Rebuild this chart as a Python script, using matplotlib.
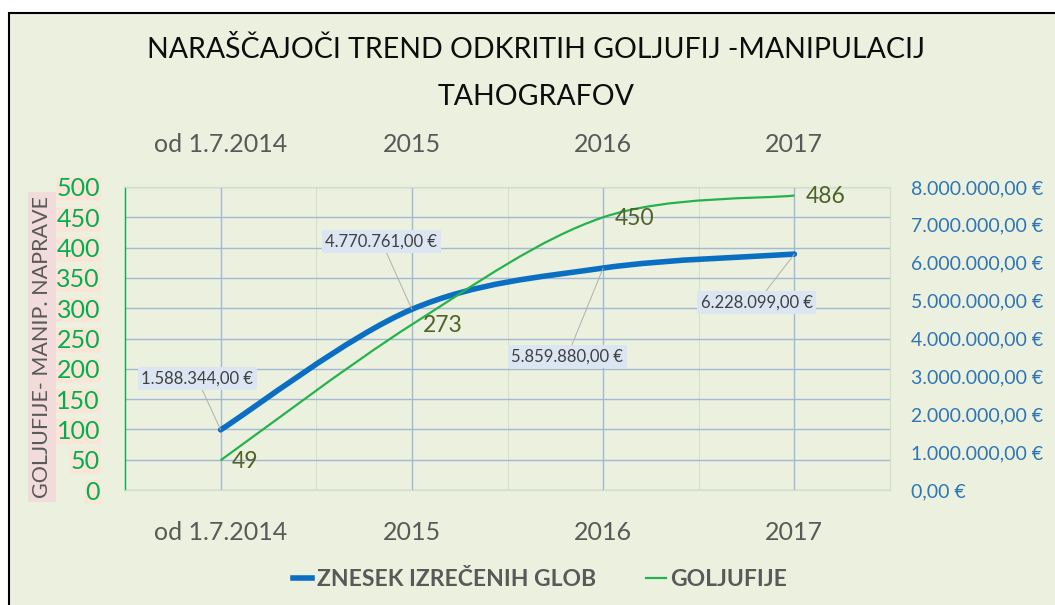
import matplotlib
matplotlib.use('Agg')
import matplotlib.pyplot as plt
from matplotlib.path import Path
from matplotlib.patches import PathPatch, Rectangle
from matplotlib.lines import Line2D
from matplotlib.ticker import FuncFormatter, MultipleLocator
import numpy as np

plt.rcParams['font.family'] = ['Lato', 'DejaVu Sans']

# data
years = ['od 1.7.2014', '2015', '2016', '2017']
fines = [1588344, 4770761, 5859880, 6228099]
frauds = [49, 273, 450, 486]
fine_labels = ['1.588.344,00 €', '4.770.761,00 €', '5.859.880,00 €', '6.228.099,00 €']

title1 = 'NARAŠČAJOČI TREND ODKRITIH GOLJUFIJ -MANIPULACIJ'
title2 = 'TAHOGRAFOV'
ylabel = 'GOLJUFIJE- MANIP. NAPRAVE'
series_names = ['ZNESEK IZREČENIH GLOB', 'GOLJUFIJE']

BG = '#ebf1de'
BLUE = '#0a6fc2'
GREEN = '#25b24c'
GRAY = '#595959'


def smooth_path(xs, ys):
    # excel style smoothed line (catmull-rom as bezier)
    pts = np.column_stack([xs, ys]).astype(float)
    n = len(pts)
    verts = [pts[0]]
    codes = [Path.MOVETO]
    for i in range(n - 1):
        p0 = pts[max(i - 1, 0)]
        p1 = pts[i]
        p2 = pts[i + 1]
        p3 = pts[min(i + 2, n - 1)]
        verts += [p1 + (p2 - p0) / 6, p2 - (p3 - p1) / 6, p2]
        codes += [Path.CURVE4] * 3
    return Path(verts, codes)


def euro(v, pos=None):
    s = f'{v:,.2f}'
    s = s.replace(',', 'X').replace('.', ',').replace('X', '.')
    return s + ' €'


fig = plt.figure(figsize=(10.55, 6.05), dpi=100)
fig.patch.set_facecolor('white')
fig.patches.append(Rectangle((9 / 1055, -0.1), 1.2, 1.1 - 13 / 605,
                             transform=fig.transFigure, facecolor=BG,
                             edgecolor='black', lw=1.5, zorder=-10))

ax = fig.add_axes([125 / 1055, 1 - 490 / 605, 765 / 1055, 303 / 605])
ax.set_facecolor(BG)
ax2 = ax.twinx()

x = np.arange(len(years))
ax.set_xlim(-0.5, len(years) - 0.5)
ax.set_ylim(0, 500)
ax2.set_ylim(0, 8000000)

ax.yaxis.set_major_locator(MultipleLocator(50))
ax2.yaxis.set_major_locator(MultipleLocator(1000000))
ax2.yaxis.set_major_formatter(FuncFormatter(euro))

ax.set_xticks(x)
ax.set_xticklabels(years)
ax.set_xticks(x[:-1] + 0.5, minor=True)
ax.tick_params(axis='x', which='both', length=0, labeltop=True, labelbottom=True,
               labelsize=18, labelcolor=GRAY, pad=22)
ax.tick_params(axis='y', length=0, labelsize=18, labelcolor='#00b050', pad=18)
ax2.tick_params(axis='y', length=0, labelsize=14, labelcolor='#2e75b6', pad=15)
for lbl in ax.get_yticklabels():
    lbl.set_bbox(dict(facecolor='#fbe5d6', edgecolor='none', pad=0.5))

ax.grid(True, axis='y', color='#a3b8d4', lw=1.0)
ax.grid(True, axis='x', which='major', color='#a3b8d4', lw=1.0)
ax.grid(True, axis='x', which='minor', color='#d6dfca', lw=0.8)
ygl = ax.get_ygridlines()
ygl[0].set_visible(False)
ygl[-1].set_visible(False)

for a in (ax, ax2):
    for side in ('top', 'right', 'bottom', 'left'):
        a.spines[side].set_color('#d6dfca')
        a.spines[side].set_linewidth(0.8)
ax2.spines['left'].set_color('#00b050')
ax2.spines['left'].set_linewidth(1.0)

# blue line on right scale
ax2.add_patch(PathPatch(smooth_path(x, fines), fill=False, edgecolor=BLUE,
                        lw=4.0, capstyle='round', zorder=3))
# green line on left scale, drawn on top
ax2.add_patch(PathPatch(smooth_path(x, frauds), fill=False, edgecolor=GREEN,
                        lw=1.6, transform=ax.transData, zorder=4))

blue_offsets = [(-17, 37), (-22, 49), (-26, -64), (-27, -35)]
for xi, v, lab, off in zip(x, fines, fine_labels, blue_offsets):
    ax2.annotate(lab, (xi, v), xytext=off, textcoords='offset points',
                 ha='center', va='center', fontsize=12, color='#404040',
                 bbox=dict(facecolor='#dce6f2', edgecolor='none', pad=2.5),
                 arrowprops=dict(arrowstyle='-', color='#b0b0b0', lw=0.7,
                                 shrinkA=0, shrinkB=0), zorder=6)

for xi, v in zip(x, frauds):
    ax2.annotate(str(v), (xi, v), xycoords=ax.transData, xytext=(8, -1),
                 textcoords='offset points', ha='left', va='center',
                 fontsize=16.5, color='#4f6228', zorder=6)

fig.text(536 / 1055, 1 - 50 / 605, title1, ha='center', va='center',
         fontsize=20.5, color='#0d0d0d')
fig.text(536 / 1055, 1 - 97 / 605, title2, ha='center', va='center',
         fontsize=20.5, color='#0d0d0d')

fig.text(42 / 1055, 1 - 347 / 605, ylabel, rotation=90, ha='center', va='center',
         fontsize=15.5, color=GRAY,
         bbox=dict(facecolor='#f2dcdb', edgecolor='none', pad=3))

handles = [Line2D([], [], color=BLUE, lw=4.0), Line2D([], [], color=GREEN, lw=1.6)]
leg = fig.legend(handles, series_names, loc='center', bbox_to_anchor=(0.512, 1 - 580 / 605),
                 ncol=2, frameon=False, handlelength=0.85, handletextpad=0.2,
                 columnspacing=2.2, prop={'size': 16.5, 'weight': 'bold'})
for t in leg.get_texts():
    t.set_color(GRAY)

fig.savefig('out.png', dpi=100, facecolor=fig.get_facecolor())
